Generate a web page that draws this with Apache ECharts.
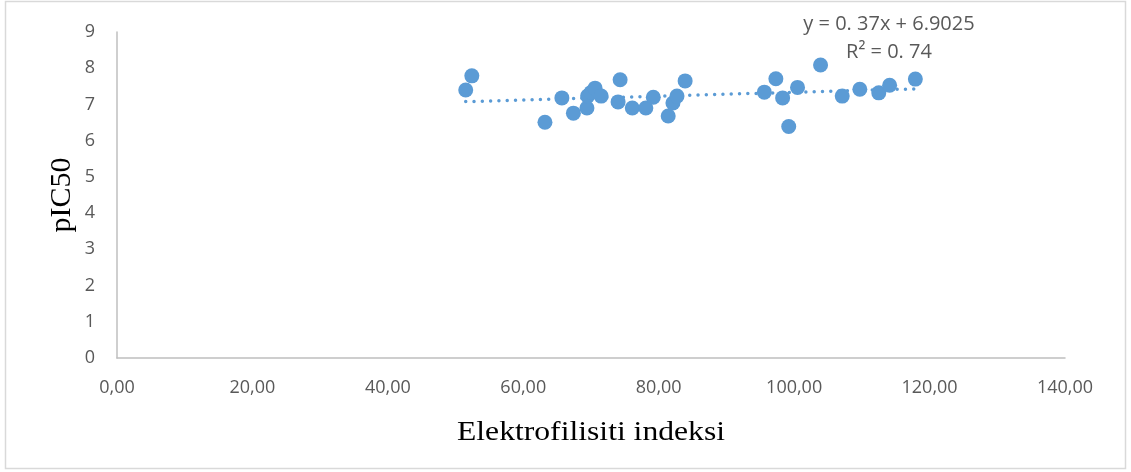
<!DOCTYPE html>
<html>
<head>
<meta charset="utf-8">
<script src="https://cdn.jsdelivr.net/npm/echarts@6/dist/echarts.min.js"></script>
<style>
  html, body { margin: 0; padding: 0; background: #fff; }
  #chart { width: 1131px; height: 472px; }
</style>
</head>
<body>
<div id="chart"></div>
<script>
// Electrophilicity index vs. pIC50 for the compound set
const elektrofilisiti = [
  51.5, 52.4, 63.2, 65.7, 67.4, 69.4, 69.5, 70.0, 70.6, 71.5,
  74.3, 74.0, 76.1, 78.1, 79.2, 81.4, 82.1, 82.7, 83.9,
  95.6, 97.3, 98.3, 99.2, 100.5, 103.9, 107.1, 109.7, 112.5, 114.1, 117.9
];
const pIC50 = [
  7.40, 7.79, 6.51, 7.18, 6.76, 6.90, 7.23, 7.33, 7.45, 7.23,
  7.68, 7.07, 6.90, 6.90, 7.20, 6.68, 7.04, 7.23, 7.65,
  7.34, 7.71, 7.18, 6.39, 7.47, 8.09, 7.23, 7.42, 7.32, 7.53, 7.70
];
const trendLabel = ['y = 0. 37x + 6.9025', 'R² = 0. 74'];
const xTitle = 'Elektrofilisiti indeksi';
const yTitle = 'pIC50';

// Least-squares linear trendline over the data range
const n = elektrofilisiti.length;
const mx = elektrofilisiti.reduce((a, b) => a + b, 0) / n;
const my = pIC50.reduce((a, b) => a + b, 0) / n;
let sxy = 0, sxx = 0;
for (let i = 0; i < n; i++) {
  sxy += (elektrofilisiti[i] - mx) * (pIC50[i] - my);
  sxx += (elektrofilisiti[i] - mx) ** 2;
}
const slope = sxy / sxx;
const intercept = my - slope * mx;
const xMin = Math.min(...elektrofilisiti);
const xMax = Math.max(...elektrofilisiti);
const trend = [[xMin, intercept + slope * xMin], [xMax, intercept + slope * xMax]];

const points = elektrofilisiti.map((x, i) => [x, pIC50[i]]);
const blue = '#5b9bd5';
const tickColor = '#595959';
const axisColor = '#bfbfbf';

const chart = echarts.init(document.getElementById('chart'), null, { renderer: 'canvas' });
chart.setOption({
  animation: false,
  backgroundColor: '#fff',
  grid: { left: 117, right: 66, top: 32, bottom: 114, containLabel: false },
  xAxis: {
    type: 'value', min: 0, max: 140, interval: 20,
    axisLine: { show: true, onZero: false, lineStyle: { color: axisColor, width: 1.5 } },
    axisTick: { show: false },
    splitLine: { show: false },
    axisLabel: {
      margin: 21, color: tickColor, fontSize: 18, fontFamily: 'Open Sans',
      formatter: v => v.toFixed(2).replace('.', ',')
    }
  },
  yAxis: {
    type: 'value', min: 0, max: 9, interval: 1,
    axisLine: { show: true, lineStyle: { color: axisColor, width: 1.5 } },
    axisTick: { show: false },
    splitLine: { show: false },
    axisLabel: { margin: 22, color: tickColor, fontSize: 18, fontFamily: 'Open Sans' }
  },
  series: [
    {
      type: 'line',
      data: trend,
      symbol: 'none',
      z: 1,
      lineStyle: { color: blue, width: 3.5, type: [0, 8.3], cap: 'round' }
    },
    {
      type: 'scatter',
      data: points,
      symbol: 'circle',
      symbolSize: 15,
      z: 2,
      itemStyle: { color: blue, opacity: 1 }
    }
  ],
  graphic: [
    {
      type: 'rect', silent: true,
      shape: { x: 5.5, y: 1.5, width: 1120, height: 467 },
      style: { fill: 'none', stroke: '#d9d9d9', lineWidth: 1.5 }
    },
    {
      type: 'text', x: 889, y: 24,
      style: { text: trendLabel[0], fill: tickColor, font: '20px "Open Sans"', align: 'center', verticalAlign: 'middle' }
    },
    {
      type: 'text', x: 889, y: 52,
      style: { text: trendLabel[1], fill: tickColor, font: '20px "Open Sans"', align: 'center', verticalAlign: 'middle' }
    },
    {
      type: 'text', x: 591, y: 433, scaleX: 1.13,
      style: { text: xTitle, fill: '#000', font: '28px "Liberation Serif"', align: 'center', verticalAlign: 'middle' }
    },
    {
      type: 'text', x: 62, y: 195, rotation: Math.PI / 2,
      style: { text: yTitle, fill: '#000', font: '30px "Liberation Serif"', align: 'center', verticalAlign: 'middle' }
    }
  ]
});
</script>
</body>
</html>
